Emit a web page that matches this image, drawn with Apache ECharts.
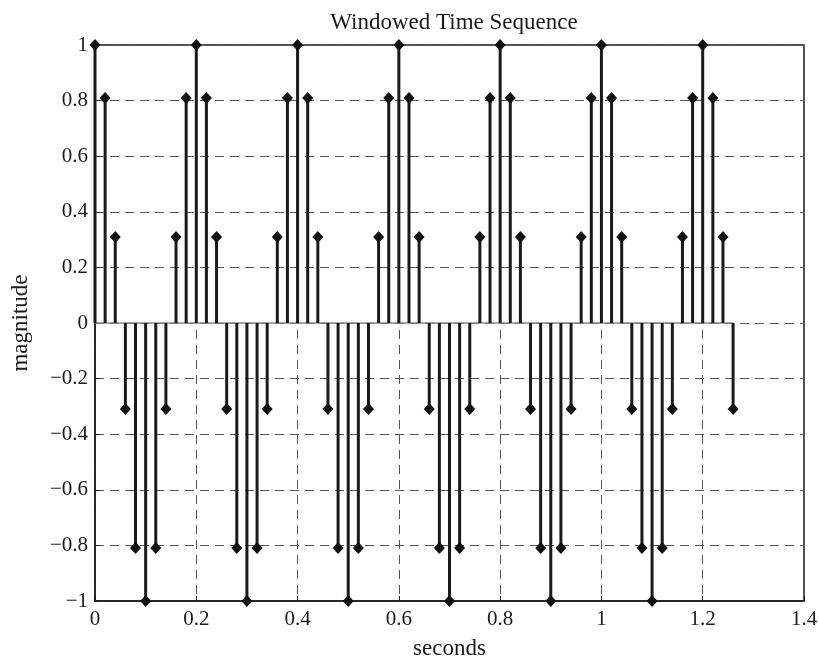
<!DOCTYPE html>
<html>
<head>
<meta charset="utf-8">
<script src="https://cdn.jsdelivr.net/npm/echarts@6/dist/echarts.min.js"></script>
<style>html,body{margin:0;padding:0;background:#fff}#c{width:819px;height:660px}</style>
</head>
<body>
<div id="c"></div>
<script>
const titleText = 'Windowed Time Sequence';
const xName = 'seconds';
const yName = 'magnitude';
const times = [0,0.02,0.04,0.06,0.08,0.10,0.12,0.14,0.16,0.18,
  0.20,0.22,0.24,0.26,0.28,0.30,0.32,0.34,0.36,0.38,
  0.40,0.42,0.44,0.46,0.48,0.50,0.52,0.54,0.56,0.58,
  0.60,0.62,0.64,0.66,0.68,0.70,0.72,0.74,0.76,0.78,
  0.80,0.82,0.84,0.86,0.88,0.90,0.92,0.94,0.96,0.98,
  1.00,1.02,1.04,1.06,1.08,1.10,1.12,1.14,1.16,1.18,
  1.20,1.22,1.24,1.26];
const values = [1,0.809,0.309,-0.309,-0.809,-1,-0.809,-0.309,0.309,0.809,
  1,0.809,0.309,-0.309,-0.809,-1,-0.809,-0.309,0.309,0.809,
  1,0.809,0.309,-0.309,-0.809,-1,-0.809,-0.309,0.309,0.809,
  1,0.809,0.309,-0.309,-0.809,-1,-0.809,-0.309,0.309,0.809,
  1,0.809,0.309,-0.309,-0.809,-1,-0.809,-0.309,0.309,0.809,
  1,0.809,0.309,-0.309,-0.809,-1,-0.809,-0.309,0.309,0.809,
  1,0.809,0.309,-0.309];
const xMin = 0, xMax = 1.4, xStep = 0.2;
const yMin = -1, yMax = 1, yStep = 0.2;

const pts = times.map((t, i) => [t, values[i]]);
const font = '"Liberation Serif", "DejaVu Serif", serif';
const fmt = v => {
  const r = Math.round(v * 10) / 10;
  const s = String(Math.abs(r));
  return r < 0 ? '\u2212' + s : s;
};
const gridLine = {show: true, lineStyle: {color: '#555', width: 1, type: [9, 6]}};

const chart = echarts.init(document.getElementById('c'));
chart.setOption({
  animation: false,
  backgroundColor: '#fff',
  title: {
    text: titleText, left: 449, top: 6, textAlign: 'center',
    textStyle: {fontFamily: font, fontSize: 23, fontWeight: 'normal', color: '#1a1a1a'}
  },
  grid: {left: 95, right: 15, top: 45, bottom: 59, containLabel: false, outerBoundsMode: 'none',
    show: true, borderColor: '#1a1a1a', borderWidth: 1.5, backgroundColor: 'transparent'},
  xAxis: {
    type: 'value', min: xMin, max: xMax, interval: xStep,
    name: xName, nameLocation: 'middle', nameGap: 36,
    nameTextStyle: {fontFamily: font, fontSize: 23, color: '#1a1a1a'},
    axisLine: {show: true, onZero: false, lineStyle: {color: '#1a1a1a', width: 1.5}},
    axisTick: {show: true, inside: true, length: 5, lineStyle: {color: '#1a1a1a'}},
    axisLabel: {fontFamily: font, fontSize: 21, color: '#1a1a1a', margin: 8, formatter: fmt},
    splitLine: gridLine
  },
  yAxis: {
    type: 'value', min: yMin, max: yMax, interval: yStep,
    name: yName, nameLocation: 'middle', nameGap: 63,
    nameTextStyle: {fontFamily: font, fontSize: 23, color: '#1a1a1a'},
    axisLine: {show: true, onZero: false, lineStyle: {color: '#1a1a1a', width: 1.5}},
    axisTick: {show: true, inside: true, length: 5, lineStyle: {color: '#1a1a1a'}},
    axisLabel: {fontFamily: font, fontSize: 21, color: '#1a1a1a', margin: 7, formatter: fmt},
    splitLine: gridLine
  },
  series: [
    {
      type: 'line', data: [[times[0], 0], [times[times.length - 1], 0]],
      symbol: 'none', lineStyle: {color: '#888', width: 1.5}, silent: true, z: 1
    },
    {
      type: 'custom', data: pts, clip: false, z: 2,
      renderItem: (params, api) => {
        const p0 = api.coord([api.value(0), 0]);
        const p1 = api.coord([api.value(0), api.value(1)]);
        return {type: 'line', shape: {x1: p0[0], y1: p0[1], x2: p1[0], y2: p1[1]},
          style: {stroke: '#1a1a1a', lineWidth: 3}};
      }
    },
    {
      type: 'scatter', data: pts, symbol: 'diamond', symbolSize: [11, 12],
      itemStyle: {color: '#111', opacity: 1}, clip: false, z: 3
    }
  ]
});
</script>
</body>
</html>
